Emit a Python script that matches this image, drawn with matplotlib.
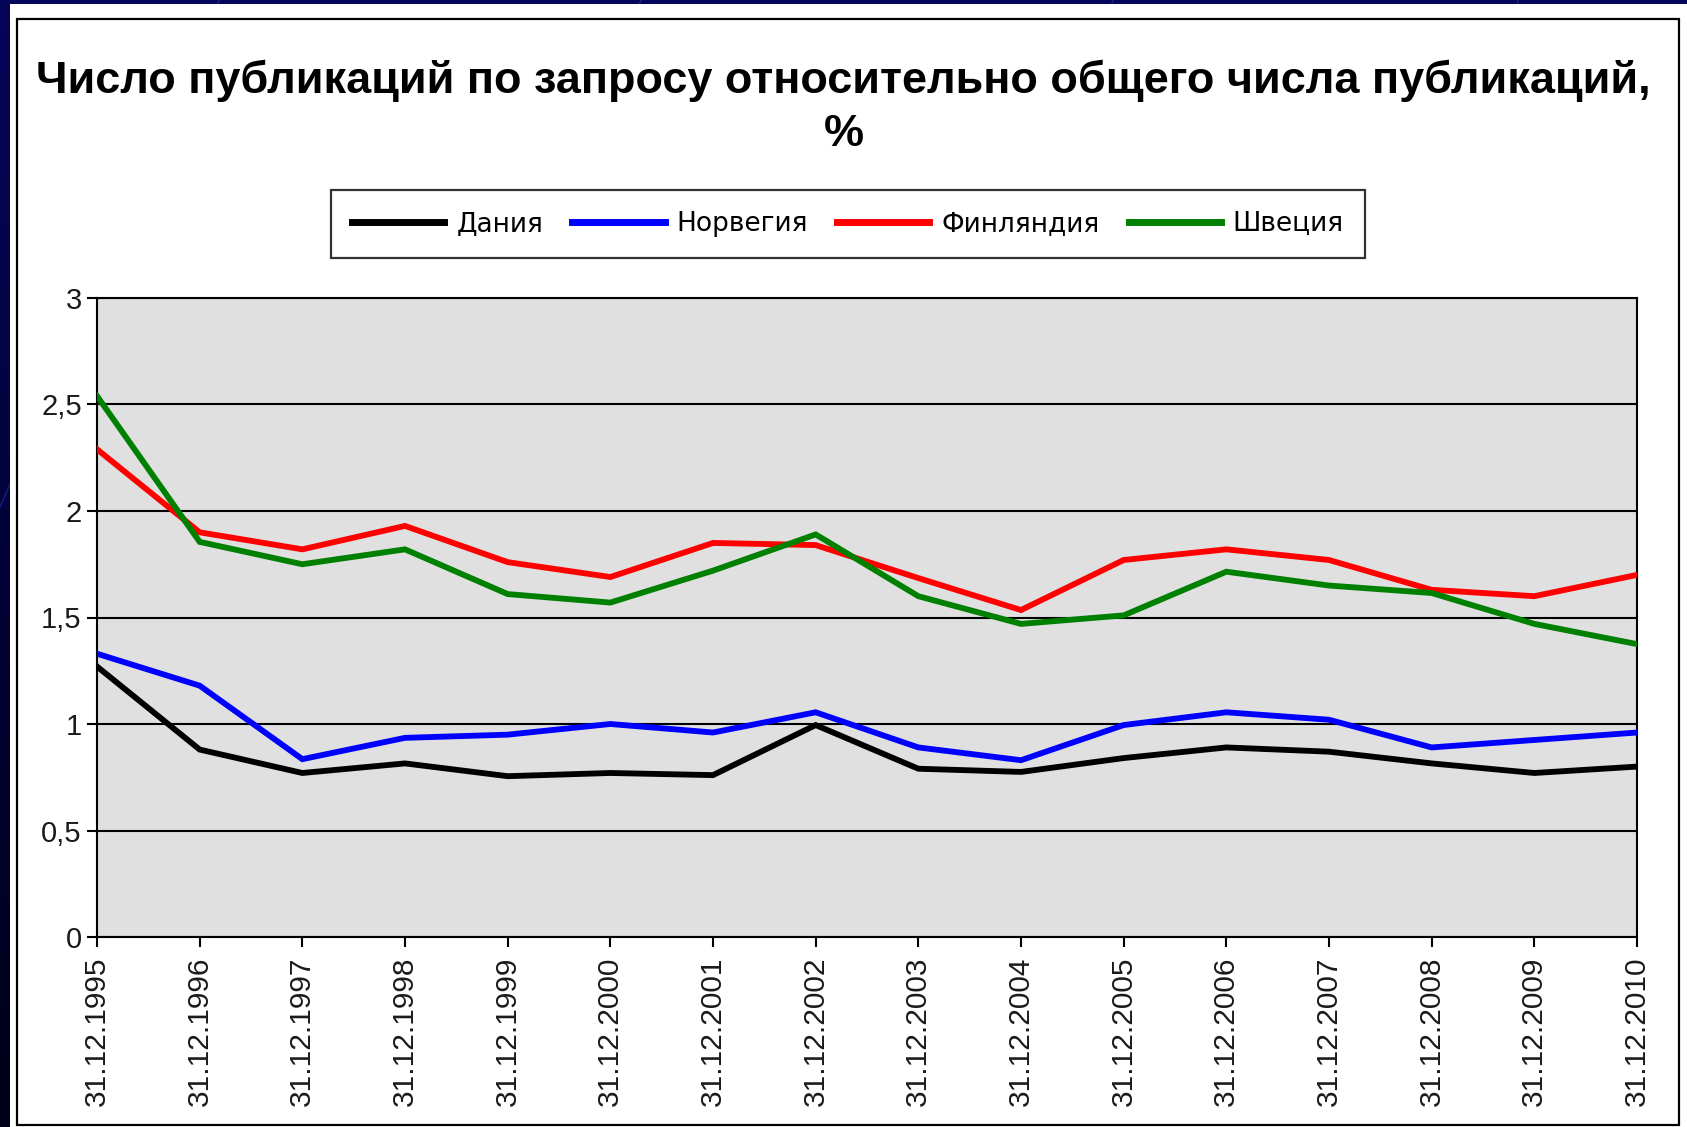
import matplotlib as mpl
import matplotlib.pyplot as plt
import numpy as np
from matplotlib.patches import Rectangle

mpl.use("Agg")

IMAGE_DPI = 100.0
WIDTH = 1687
HEIGHT = 1127

# даты отчётов (на 31 декабря)
years = list(range(1995, 2011))
tick_labels = ["31.12.%d" % y for y in years]

# доля публикаций по запросу, %
denmark = [1.27, 0.88, 0.77, 0.815, 0.755, 0.77, 0.76, 0.995, 0.79, 0.775, 0.84, 0.89, 0.87, 0.815, 0.77, 0.80]
norway = [1.33, 1.18, 0.835, 0.935, 0.95, 1.00, 0.96, 1.055, 0.89, 0.83, 0.995, 1.055, 1.02, 0.89, 0.925, 0.96]
finland = [2.29, 1.90, 1.82, 1.93, 1.76, 1.69, 1.85, 1.84, 1.685, 1.535, 1.77, 1.82, 1.77, 1.63, 1.60, 1.70]
sweden = [2.54, 1.855, 1.75, 1.82, 1.61, 1.57, 1.72, 1.89, 1.60, 1.47, 1.51, 1.715, 1.65, 1.615, 1.47, 1.375]

series = [
    ("Дания", denmark, "#000000"),
    ("Норвегия", norway, "#0000FF"),
    ("Финляндия", finland, "#FF0000"),
    ("Швеция", sweden, "#008000"),
]

y_ticks = [0, 0.5, 1, 1.5, 2, 2.5, 3]
y_tick_labels = ["0", "0,5", "1", "1,5", "2", "2,5", "3"]

plt.rcParams["font.family"] = ["Liberation Sans", "DejaVu Sans"]

fig = plt.figure(figsize=(WIDTH / IMAGE_DPI, HEIGHT / IMAGE_DPI), dpi=IMAGE_DPI)

# фон слайда: тёмно-синий градиент с тонкими линиями
bg = fig.add_axes([0, 0, 1, 1], zorder=-10)
grad = np.linspace(0, 1, 256).reshape(-1, 1)
cmap = mpl.colors.LinearSegmentedColormap.from_list("slide", ["#05055a", "#000018"])
bg.imshow(grad, aspect="auto", cmap=cmap, extent=[0, 1, 0, 1], origin="upper")
for x0, x1 in [(0.13, 0.0), (0.38, 0.25), (0.66, 0.52), (0.9, 0.8)]:
    bg.plot([x0, x1], [1.0, 0.55], color="#2a3cc0", lw=0.8, alpha=0.6)
bg.set_xlim(0, 1)
bg.set_ylim(0, 1)
bg.axis("off")

# белая подложка диаграммы и рамка
fig.patches.append(Rectangle((10 / WIDTH, 0), 1, 1 - 4 / HEIGHT,
                             transform=fig.transFigure, facecolor="white",
                             edgecolor="none", zorder=-5))
fig.patches.append(Rectangle((17 / WIDTH, 2 / HEIGHT), 1662 / WIDTH, 1 - 21 / HEIGHT,
                             transform=fig.transFigure, facecolor="none",
                             edgecolor="black", linewidth=1.6, zorder=-4))

ax = fig.add_axes([97 / WIDTH, 1 - 937 / HEIGHT, 1540 / WIDTH, 639 / HEIGHT])
ax.set_facecolor("#E0E0E0")

x = np.arange(len(years))
for name, values, color in series:
    ax.plot(x, values, color=color, linewidth=4.2, label=name,
            solid_joinstyle="miter", zorder=3)

ax.set_xlim(0, len(years) - 1)
ax.set_ylim(0, 3)
ax.set_xticks(x)
ax.set_xticklabels(tick_labels, rotation=90, fontsize=21.5, color="#1a1a1a")
ax.set_yticks(y_ticks)
ax.set_yticklabels(y_tick_labels, fontsize=21, color="#1a1a1a")
ax.tick_params(axis="both", direction="out", length=7, width=1.5, color="black")
ax.tick_params(axis="x", pad=7)
ax.tick_params(axis="y", pad=4)

ax.grid(axis="y", color="black", linewidth=1.5)
ax.set_axisbelow(True)
for spine in ax.spines.values():
    spine.set_color("black")
    spine.set_linewidth(1.5)

fig.text(0.5, 1 - 107 / HEIGHT,
         "Число публикаций по запросу относительно общего числа публикаций,\n%",
         ha="center", va="center", fontsize=32.4, fontweight="bold",
         linespacing=1.38)

leg = fig.legend(loc="center", bbox_to_anchor=(848 / WIDTH, 1 - 224 / HEIGHT),
                 ncol=4, frameon=True, fancybox=False,
                 prop={"family": "DejaVu Sans", "size": 19},
                 handlelength=3.5, handletextpad=0.45, columnspacing=1.1,
                 borderpad=0.8)
leg.get_frame().set_edgecolor("black")
leg.get_frame().set_linewidth(1.6)
for line in leg.get_lines():
    line.set_linewidth(5)

fig.savefig("out.png", dpi=IMAGE_DPI)
